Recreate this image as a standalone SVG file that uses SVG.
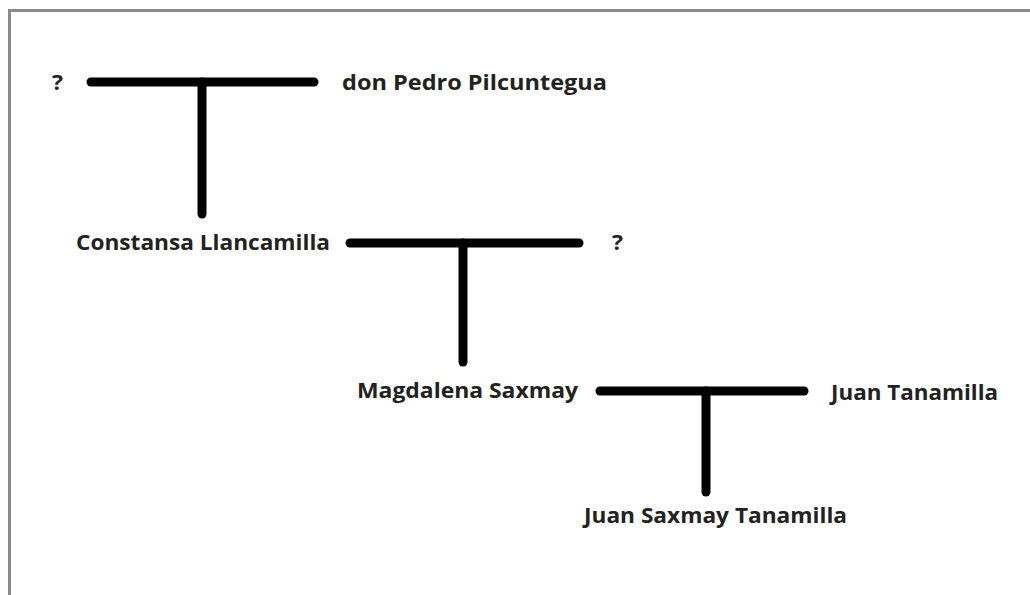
<svg xmlns="http://www.w3.org/2000/svg" width="1030" height="595" viewBox="0 0 1030 595">
  <style>
    .lbl { font-family: "Open Sans", "Liberation Sans", sans-serif; font-weight: 700; font-size: 22px; fill: #222; }
    .bar { stroke: #000; stroke-width: 9; stroke-linecap: round; fill: none; }
    .frame { stroke: #8a8a8a; stroke-width: 3; fill: none; }
  </style>
  <rect width="1030" height="595" fill="#fff"/>
  <path class="frame" d="M1030,10.5 H9.5 V595"/>

  <g id="n-unknown1"><text class="lbl" x="52" y="90" textLength="11" lengthAdjust="spacingAndGlyphs">?</text></g>
  <g id="n-pedro"><text class="lbl" x="342" y="90" textLength="265" lengthAdjust="spacingAndGlyphs">don Pedro Pilcuntegua</text></g>
  <g id="n-constansa"><text class="lbl" x="76" y="250" textLength="254" lengthAdjust="spacingAndGlyphs">Constansa Llancamilla</text></g>
  <g id="n-unknown2"><text class="lbl" x="612" y="250" textLength="11" lengthAdjust="spacingAndGlyphs">?</text></g>
  <g id="n-magdalena"><text class="lbl" x="357" y="398" textLength="221" lengthAdjust="spacingAndGlyphs">Magdalena Saxmay</text></g>
  <g id="n-juan"><text class="lbl" x="831" y="400" textLength="167" lengthAdjust="spacingAndGlyphs">Juan Tanamilla</text></g>
  <g id="n-juansaxmay"><text class="lbl" x="584" y="523" textLength="263" lengthAdjust="spacingAndGlyphs">Juan Saxmay Tanamilla</text></g>

  <g id="connectors">
    <line class="bar" x1="91" y1="82" x2="314" y2="82"/>
    <line class="bar" x1="202" y1="82" x2="202" y2="214"/>
    <line class="bar" x1="350" y1="243" x2="579" y2="243"/>
    <line class="bar" x1="463" y1="243" x2="463" y2="362"/>
    <line class="bar" x1="600" y1="391" x2="804" y2="391"/>
    <line class="bar" x1="706" y1="391" x2="706" y2="492"/>
  </g>
</svg>
